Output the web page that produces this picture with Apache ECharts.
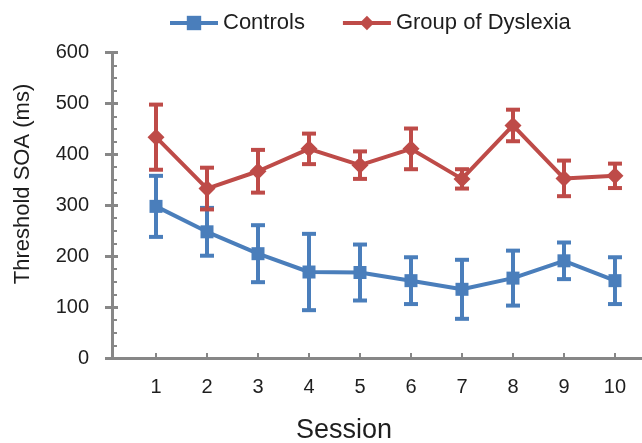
<!DOCTYPE html>
<html>
<head>
<meta charset="utf-8">
<script src="https://cdn.jsdelivr.net/npm/echarts@6/dist/echarts.min.js"></script>
<style>
html, body { margin: 0; padding: 0; background: #fff; }
#main { width: 642px; height: 443px; }
</style>
</head>
<body>
<div id="main"></div>
<script>
var sessions = [1, 2, 3, 4, 5, 6, 7, 8, 9, 10];
var yTicks = [0, 100, 200, 300, 400, 500, 600];

var controlsMean = [298, 248, 205, 169, 168, 152, 135, 157, 191, 152];
var controlsErr = [60, 47, 56, 75, 55, 46, 58, 54, 36, 46];

var dyslexiaMean = [434, 333, 367, 411, 379, 411, 352, 457, 353, 358];
var dyslexiaErr = [64, 41, 42, 30, 27, 40, 19, 31, 35, 24];

var BLUE = '#4a7ebb';
var RED = '#be4b48';
var AXIS = '#878787';
var FONT = '"Liberation Sans", Arial, sans-serif';

function pairs(xs, ys) {
    return xs.map(function (x, i) { return [x, ys[i]]; });
}

function bars(xs, mean, err) {
    return xs.map(function (x, i) { return [x, mean[i] - err[i], mean[i] + err[i]]; });
}

// draws one vertical error bar with two caps
function errorBarItem(params, api) {
    var x = api.value(0);
    var lo = api.coord([x, api.value(1)]);
    var hi = api.coord([x, api.value(2)]);
    var half = 7;
    var style = { stroke: api.visual('color'), lineWidth: 4 };
    return {
        type: 'group',
        children: [
            { type: 'line', shape: { x1: lo[0], y1: lo[1], x2: hi[0], y2: hi[1] }, style: style },
            { type: 'line', shape: { x1: lo[0] - half, y1: lo[1], x2: lo[0] + half, y2: lo[1] }, style: style },
            { type: 'line', shape: { x1: hi[0] - half, y1: hi[1], x2: hi[0] + half, y2: hi[1] }, style: style }
        ]
    };
}

var chart = echarts.init(document.getElementById('main'));

var option = {
    animation: false,
    textStyle: { fontFamily: FONT },
    legend: {
        data: ['Controls', 'Group of Dyslexia'],
        left: 163,
        top: 7,
        itemWidth: 48,
        itemHeight: 18,
        itemGap: 36,
        lineStyle: { width: 4 },
        textStyle: { fontSize: 22, color: '#1e1e1e', fontFamily: FONT }
    },
    grid: { left: 112, right: 0, top: 52.7, bottom: 85, containLabel: false },
    xAxis: {
        type: 'value',
        min: 0.137,
        max: 10.53,
        splitLine: { show: false },
        axisLine: { show: true, lineStyle: { color: AXIS, width: 3 } },
        axisTick: { show: true, inside: true, length: 5, lineStyle: { color: AXIS, width: 2 }, customValues: sessions },
        axisLabel: { fontSize: 20, color: '#1e1e1e', margin: 19, customValues: sessions, fontFamily: FONT }
    },
    yAxis: [{
        type: 'value',
        min: yTicks[0],
        max: yTicks[yTicks.length - 1],
        interval: 100,
        splitLine: { show: false },
        axisLine: { show: true, lineStyle: { color: AXIS, width: 3 } },
        axisTick: { show: true, inside: true, length: 6, lineStyle: { color: AXIS, width: 3 } },
        minorTick: { show: true, splitNumber: 4, length: 5, lineStyle: { color: AXIS, width: 2 } },
        axisLabel: { fontSize: 20, color: '#1e1e1e', margin: 23, fontFamily: FONT }
    }, {
        // outer half of the major ticks
        type: 'value',
        position: 'left',
        min: yTicks[0],
        max: yTicks[yTicks.length - 1],
        interval: 100,
        splitLine: { show: false },
        axisLine: { show: false },
        axisTick: { show: true, inside: false, length: 7, lineStyle: { color: AXIS, width: 3 } },
        axisLabel: { show: false }
    }],
    graphic: [{
        type: 'text',
        x: 344,
        y: 431,
        style: { text: 'Session', fill: '#1e1e1e', font: '27px ' + FONT, textAlign: 'center', textVerticalAlign: 'middle' }
    }, {
        type: 'text',
        x: 23,
        y: 184,
        rotation: Math.PI / 2,
        style: { text: 'Threshold SOA (ms)', fill: '#1e1e1e', font: '22px ' + FONT, textAlign: 'center', textVerticalAlign: 'middle' }
    }],
    series: [{
        name: 'Controls SD',
        type: 'custom',
        renderItem: errorBarItem,
        itemStyle: { color: BLUE },
        encode: { x: 0, y: [1, 2] },
        data: bars(sessions, controlsMean, controlsErr)
    }, {
        name: 'Controls',
        type: 'line',
        data: pairs(sessions, controlsMean),
        symbol: 'rect',
        symbolSize: 13,
        showAllSymbol: true,
        itemStyle: { color: BLUE },
        lineStyle: { color: BLUE, width: 4 }
    }, {
        name: 'Dyslexia SD',
        type: 'custom',
        renderItem: errorBarItem,
        itemStyle: { color: RED },
        encode: { x: 0, y: [1, 2] },
        data: bars(sessions, dyslexiaMean, dyslexiaErr)
    }, {
        name: 'Group of Dyslexia',
        type: 'line',
        data: pairs(sessions, dyslexiaMean),
        symbol: 'diamond',
        symbolSize: 17,
        showAllSymbol: true,
        itemStyle: { color: RED },
        lineStyle: { color: RED, width: 4 }
    }]
};

chart.setOption(option);
</script>
</body>
</html>
